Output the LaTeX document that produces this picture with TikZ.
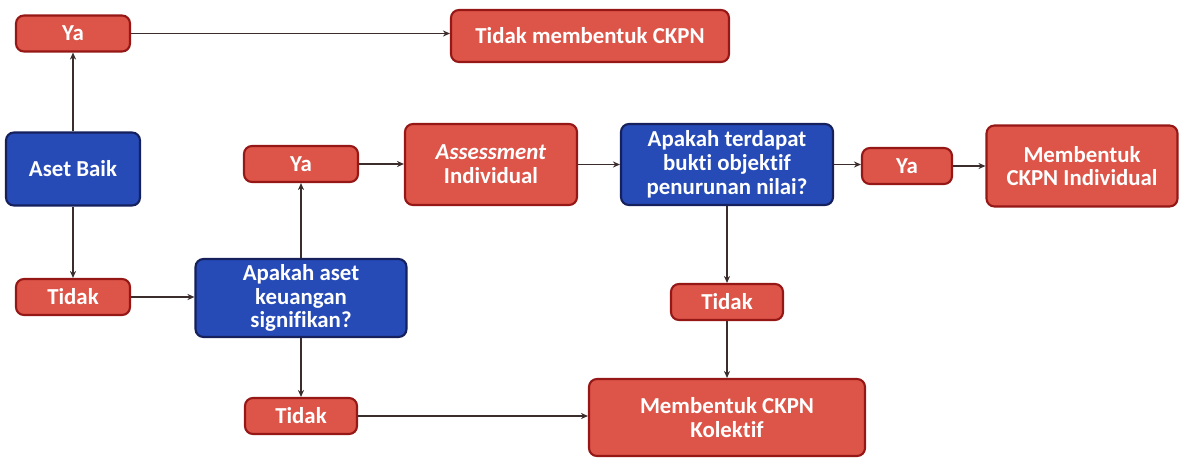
\documentclass[tikz,border=0pt]{standalone}
\usepackage{fontspec}
\setmainfont{Carlito}[Ligatures=NoCommon]
\usepackage{tikz}
\usetikzlibrary{shapes}
\usetikzlibrary{positioning}
\usetikzlibrary{arrows.meta}
\definecolor{ckpnred}{RGB}{221, 84, 72}
\definecolor{ckpnredline}{RGB}{150, 24, 22}
\definecolor{ckpnblue}{RGB}{38, 74, 182}
\definecolor{ckpnblueline}{RGB}{22, 32, 92}
\definecolor{arrowgrey}{RGB}{60, 45, 45}
\begin{document}
\begin{tikzpicture}[
    redbox/.style={draw=ckpnredline, line width=1.2pt, fill=ckpnred, rounded corners=4.5pt, text=white, font=\fontsize{13}{13.5}\selectfont\bfseries, align=center, inner sep=0pt},
    bluebox/.style={redbox, draw=ckpnblueline, fill=ckpnblue},
    flow/.style={draw=arrowgrey, line width=0.8pt, -{Stealth[length=4pt, width=3.5pt]}}
    ]
    %
    \useasboundingbox (0,0) rectangle (23.58,9.14);
    %
    \node[redbox, minimum width=2.28cm, minimum height=0.72cm] (yaBaik) at (1.46, 8.47) {Ya};
    \node[redbox, minimum width=5.56cm, minimum height=1.04cm] (tidakCkpn) at (11.80, 8.42) {Tidak membentuk CKPN};
    \node[bluebox, minimum width=2.68cm, minimum height=1.46cm] (asetBaik) at (1.46, 5.76) {Aset Baik};
    \node[redbox, minimum width=2.28cm, minimum height=0.72cm] (tidakBaik) at (1.46, 3.20) {Tidak};
    %
    \node[bluebox, minimum width=4.22cm, minimum height=1.56cm] (signifikan) at (6.02, 3.18) {Apakah aset\\keuangan\\signifikan?};
    \node[redbox, minimum width=2.28cm, minimum height=0.72cm] (yaSignif) at (6.02, 5.86) {Ya};
    \node[redbox, minimum width=2.24cm, minimum height=0.72cm] (tidakSignif) at (6.02, 0.82) {Tidak};
    %
    \node[redbox, minimum width=3.44cm, minimum height=1.62cm] (assessment) at (9.82, 5.85) {\textit{Assessment}\\Individual};
    \node[bluebox, minimum width=4.24cm, minimum height=1.62cm] (bukti) at (14.54, 5.85) {Apakah terdapat\\bukti objektif\\penurunan nilai?};
    \node[redbox, minimum width=1.80cm, minimum height=0.72cm] (yaBukti) at (18.14, 5.82) {Ya};
    \node[redbox, minimum width=3.82cm, minimum height=1.62cm] (ckpnIndividual) at (21.64, 5.82) {Membentuk\\CKPN Individual};
    \node[redbox, minimum width=2.24cm, minimum height=0.72cm] (tidakBukti) at (14.54, 3.10) {Tidak};
    \node[redbox, minimum width=5.52cm, minimum height=1.54cm] (ckpnKolektif) at (14.54, 0.79) {Membentuk CKPN\\Kolektif};
    %
    \draw[flow] (asetBaik) -- (yaBaik);
    \draw[flow] (asetBaik) -- (tidakBaik);
    \draw[flow] (yaBaik) -- (yaBaik -| tidakCkpn.west);
    \draw[flow] (tidakBaik) -- (tidakBaik -| signifikan.west);
    \draw[flow] (signifikan) -- (yaSignif);
    \draw[flow] (signifikan) -- (tidakSignif);
    \draw[flow] (yaSignif) -- (yaSignif -| assessment.west);
    \draw[flow] (assessment) -- (bukti);
    \draw[flow] (bukti) -- (bukti -| yaBukti.west);
    \draw[flow] (yaBukti) -- (yaBukti -| ckpnIndividual.west);
    \draw[flow] (bukti) -- (tidakBukti);
    \draw[flow] (tidakBukti) -- (ckpnKolektif);
    \draw[flow] (tidakSignif) -- (tidakSignif -| ckpnKolektif.west);
    %
\end{tikzpicture}
\end{document}
